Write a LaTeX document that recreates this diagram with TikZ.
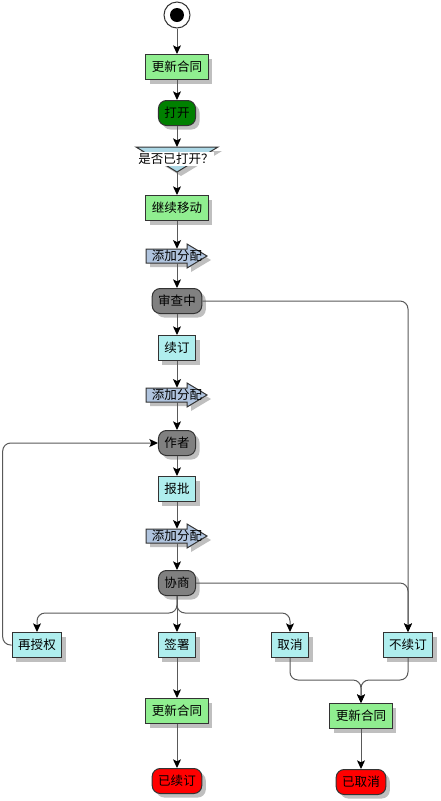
\documentclass[tikz,border=0pt]{standalone}
\usepackage{fontspec}
\setmainfont{Noto Sans CJK SC}
\usetikzlibrary{arrows.meta,shadows}

\definecolor{actgreen}{HTML}{90EE90}
\definecolor{opengreen}{HTML}{008000}
\definecolor{taskcyan}{HTML}{AFEEEE}
\definecolor{stategray}{HTML}{808080}
\definecolor{endred}{HTML}{FF0000}
\definecolor{allocblue}{HTML}{B0C4DE}
\definecolor{decblue}{HTML}{ADD8E6}

\tikzset{
  boxshadow/.style={drop shadow={shadow xshift=3pt,shadow yshift=-3pt,fill=black!25,opacity=1}},
  base/.style={draw=black!80,line width=0.75pt,font=\fontsize{9.4}{11}\selectfont,
    inner xsep=4.5pt,inner ysep=0pt,minimum height=18.75pt,boxshadow},
  act/.style={base,fill=actgreen},
  task/.style={base,fill=taskcyan},
  state/.style={base,rounded corners=6pt,fill=stategray},
  open/.style={base,rounded corners=6pt,fill=opengreen},
  done/.style={base,rounded corners=6pt,fill=endred},
  flow/.style={draw=black!65,line width=0.75pt,-{Stealth[length=6.5pt,width=6pt,inset=1.5pt,black]}},
  link/.style={flow,rounded corners=6pt},
}

% allocation arrow: #1 name, #2 y of centre
\newcommand{\allocarrow}[2]{%
  \filldraw[draw=black!80,line width=0.75pt,fill=allocblue,boxshadow] (146,#2-7) -- (187,#2-7) -- (187,#2-12) -- (207,#2) -- (187,#2+12) -- (187,#2+7) -- (146,#2+7) -- cycle;
  \node[font=\fontsize{9.4}{11}\selectfont,inner sep=0pt,minimum width=30pt,minimum height=10.5pt] (#1) at (177,#2) {添加分配};
}

\begin{document}
\begin{tikzpicture}[x=0.75pt,y=0.75pt,yscale=-1,xscale=1]
  \useasboundingbox (0,0) rectangle (440,801);

  %Shape: Start
  \node[draw=black!80,line width=0.75pt,fill=white,circle,minimum size=19.5pt,inner sep=0pt] (start) at (177,15) {};
  \fill[black] (start) circle[radius=5.25pt];

  % Text Node
  \node[act] (gx1) at (177,67) {更新合同};
  \node[open] (dakai) at (177,113) {打开};

  %Shape: Decision
  \coordinate (dectop) at (177,147);
  \coordinate (dectip) at (177,172);
  \filldraw[draw=black!80,line width=0.75pt,fill=decblue,boxshadow] (136,147) -- (218,147) -- (dectip) -- cycle;
  \node[fill=white,inner xsep=0pt,inner ysep=1pt,font=\fontsize{9.4}{11}\selectfont] (dec) at (176,159) {是否已打开？};

  \node[act] (jixu) at (177,208) {继续移动};
  \allocarrow{fp1}{256}
  \node[state] (shencha) at (177,301) {审查中};
  \node[task] (xuding) at (177,348) {续订};
  \allocarrow{fp2}{395}
  \node[state] (zuozhe) at (177,443) {作者};
  \node[task] (baopi) at (177,489) {报批};
  \allocarrow{fp3}{536}
  \node[state] (xieshang) at (177,583) {协商};

  \node[task] (zaishou) at (37,645) {再授权};
  \node[task] (qianshu) at (177,645) {签署};
  \node[task] (quxiao) at (290,645) {取消};
  \node[task] (buxu) at (408,645) {不续订};

  \node[act] (gx2) at (177,711) {更新合同};
  \node[done] (yixu) at (177,781) {已续订};
  \node[act] (gx3) at (361,716) {更新合同};
  \node[done] (yiqu) at (361,782) {已取消};

  \coordinate (fork) at (177,613);
  \coordinate (merge) at (361,680);

  %Straight Lines
  \draw[flow] (start) -- (gx1);
  \draw[flow] (gx1) -- (dakai);
  \draw[flow] (dakai) -- (dectop);
  \draw[flow] (dectip) -- (jixu);
  \draw[flow] (jixu) -- (fp1);
  \draw[flow] (fp1) -- (shencha);
  \draw[flow] (shencha) -- (xuding);
  \draw[flow] (xuding) -- (fp2);
  \draw[flow] (fp2) -- (zuozhe);
  \draw[flow] (zuozhe) -- (baopi);
  \draw[flow] (baopi) -- (fp3);
  \draw[flow] (fp3) -- (xieshang);
  \draw[flow] (xieshang) -- (qianshu);
  \draw[flow] (qianshu) -- (gx2);
  \draw[flow] (gx2) -- (yixu);
  \draw[flow] (gx3) -- (yiqu);

  %Bent Lines
  \draw[link] (shencha.east) -| (buxu.north);
  \draw[link] (xieshang.east) -| (buxu.north);
  \draw[link] (xieshang.south) -- (fork) -| (zaishou.north);
  \draw[link] (xieshang.south) -- (fork) -| (quxiao.north);
  \draw[link] (zaishou.west) -- ++(-9,0) |- (zuozhe.west);
  \draw[link] (quxiao.south) |- (merge) -- (gx3.north);
  \draw[link] (buxu.south) |- (merge) -- (gx3.north);

\end{tikzpicture}
\end{document}
